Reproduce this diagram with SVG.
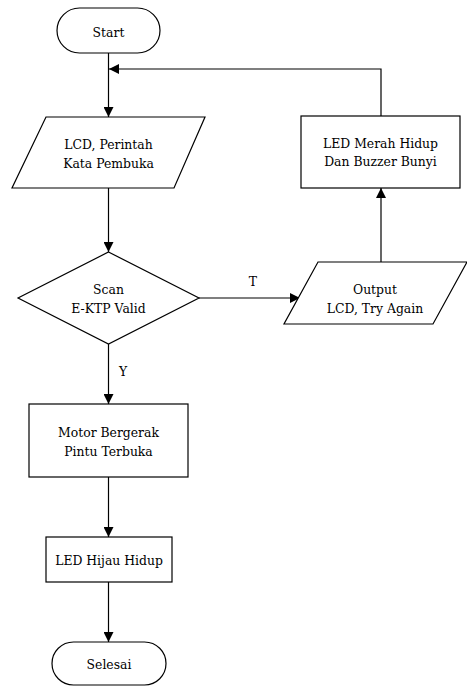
<svg xmlns="http://www.w3.org/2000/svg" width="467" height="686" viewBox="0 0 467 686">
<defs>
<style>
.s{fill:#fff;stroke:#000;stroke-width:1.2}
.c{fill:none;stroke:#000;stroke-width:1.2}
</style>
<marker id="a" viewBox="0 0 10 10" refX="10" refY="5" markerWidth="10" markerHeight="10" markerUnits="userSpaceOnUse" orient="auto">
<path d="M0,0 L10,5 L0,10 Z" fill="#000"/>
</marker>
</defs>
<rect width="467" height="686" fill="#fff"/>
<g font-family="DejaVu Serif, serif" font-size="12.4" fill="#000" text-anchor="middle">
<g id="connectors">
<line class="c" x1="108.5" y1="53" x2="108.5" y2="117" marker-end="url(#a)"/>
<line class="c" x1="108.5" y1="188" x2="108.5" y2="252" marker-end="url(#a)"/>
<line class="c" x1="199" y1="298" x2="300" y2="298" marker-end="url(#a)"/>
<line class="c" x1="381" y1="262" x2="381" y2="188" marker-end="url(#a)"/>
<polyline class="c" points="381,116 381,69 109,69" marker-end="url(#a)"/>
<line class="c" x1="108.5" y1="344" x2="108.5" y2="404" marker-end="url(#a)"/>
<line class="c" x1="108.5" y1="477" x2="108.5" y2="537" marker-end="url(#a)"/>
<line class="c" x1="108.5" y1="582" x2="108.5" y2="642" marker-end="url(#a)"/>
<text x="253" y="286">T</text>
<text x="123" y="376">Y</text>
</g>
<g id="start">
<rect class="s" x="57" y="8" width="103" height="45" rx="22.5"/>
<text x="108.5" y="37">Start</text>
</g>
<g id="input">
<polygon class="s" points="46,117 205,117 174,188 12,188"/>
<text x="108.5" y="149">LCD, Perintah</text>
<text x="108.5" y="168">Kata Pembuka</text>
</g>
<g id="decision">
<polygon class="s" points="108.5,252 199,298 108.5,344 18,298"/>
<text x="108.5" y="294">Scan</text>
<text x="108.5" y="313">E-KTP Valid</text>
</g>
<g id="output">
<polygon class="s" points="318,262 467,262 433,324 284,324"/>
<text x="375" y="294">Output</text>
<text x="375" y="313">LCD, Try Again</text>
</g>
<g id="ledmerah">
<rect class="s" x="301" y="116" width="159" height="72"/>
<text x="380.5" y="148">LED Merah Hidup</text>
<text x="380.5" y="166">Dan Buzzer Bunyi</text>
</g>
<g id="motor">
<rect class="s" x="29" y="404" width="159" height="73"/>
<text x="108.5" y="437">Motor Bergerak</text>
<text x="108.5" y="456">Pintu Terbuka</text>
</g>
<g id="ledhijau">
<rect class="s" x="46" y="537" width="126" height="45"/>
<text x="109" y="565">LED Hijau Hidup</text>
</g>
<g id="selesai">
<rect class="s" x="52" y="642" width="114" height="43" rx="21.5"/>
<text x="109" y="669">Selesai</text>
</g>
</g>
</svg>
